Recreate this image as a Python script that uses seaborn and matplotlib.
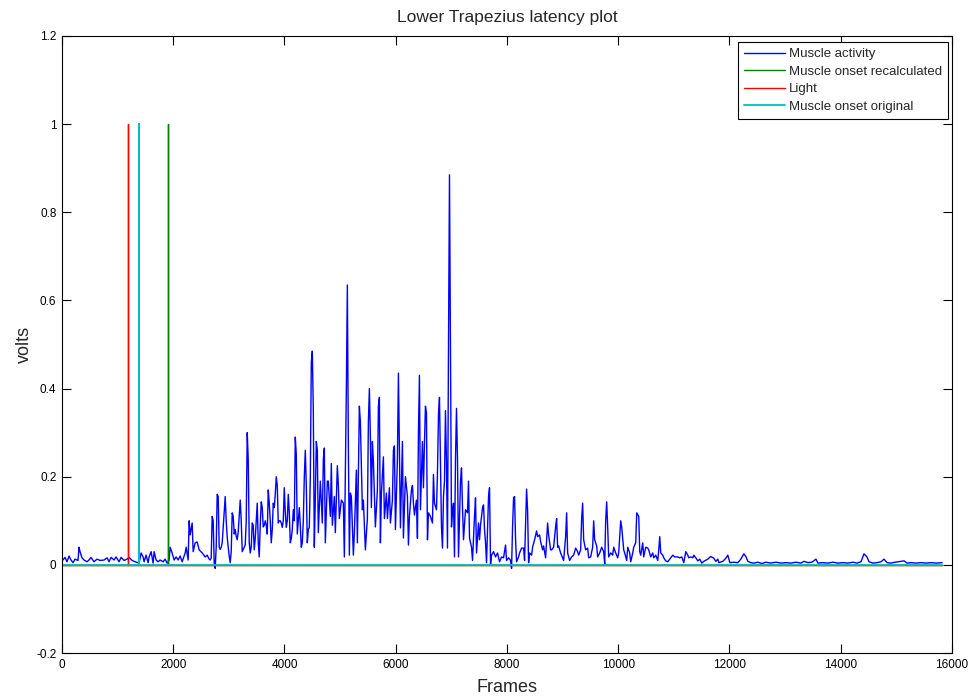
import numpy as np
import pandas as pd
import seaborn as sns
import matplotlib
matplotlib.use("Agg")
import matplotlib.pyplot as plt
from matplotlib.ticker import FuncFormatter

# muscle activity trace (frame, volts)
frames = [
    0, 18, 54, 90, 126, 162, 198, 234, 288, 306,
    324, 360, 396, 450, 486, 522, 576, 630, 684, 756,
    810, 846, 882, 936, 972, 1026, 1062, 1116, 1170, 1206,
    1260, 1314, 1386, 1422, 1458, 1476, 1512, 1548, 1566, 1602,
    1638, 1656, 1692, 1728, 1764, 1818, 1854, 1890, 1926, 1944,
    1980, 2016, 2052, 2088, 2124, 2160, 2214, 2232, 2268, 2286,
    2304, 2340, 2358, 2394, 2430, 2466, 2520, 2574, 2610, 2646,
    # burst start
    2664, 2682, 2700, 2718, 2736, 2754, 2772, 2790, 2808, 2826,
    2844, 2862, 2880, 2898, 2934, 2952, 2970, 2988, 3006, 3024,
    3042, 3060, 3078, 3096, 3114, 3132, 3150, 3168, 3204, 3222,
    3240, 3258, 3276, 3294, 3312, 3330, 3348, 3366, 3384, 3402,
    3420, 3438, 3456, 3474, 3492, 3510, 3528, 3546, 3564, 3582,
    3600, 3618, 3636, 3654, 3672, 3690, 3708, 3726, 3744, 3762,
    3780, 3798, 3816, 3834, 3852, 3870, 3888, 3906, 3924, 3942,
    3960, 3978, 3996, 4014, 4032, 4050, 4068, 4086, 4104, 4122,
    4140, 4158, 4176, 4194, 4212, 4230, 4248, 4266, 4284, 4302,
    4320, 4338, 4356, 4374, 4392, 4410, 4428, 4446,
    # main burst
    4464, 4482, 4500, 4518, 4536, 4554, 4572, 4590, 4608, 4644,
    4680, 4698, 4716, 4734, 4770, 4788, 4824, 4842, 4860, 4896,
    4914, 4950, 4968, 4986, 5022, 5058, 5076, 5112, 5130, 5148,
    5166, 5184, 5202, 5238, 5256, 5292, 5310, 5346, 5364, 5400,
    5418, 5454, 5490, 5508, 5526, 5544, 5562, 5580, 5598, 5634,
    5670, 5688, 5706, 5724, 5742, 5778, 5796, 5832, 5850, 5886,
    5904, 5940, 5958, 5976, 5994, 6030, 6048, 6066, 6084, 6120,
    6138, 6174, 6210, 6228, 6246, 6282, 6300, 6318, 6336, 6372,
    6390, 6408, 6426,
    6444, 6480, 6498, 6516, 6534, 6552, 6570, 6588, 6624, 6660,
    6678, 6696, 6732, 6750, 6768, 6786, 6822, 6840, 6858, 6876,
    6894, 6912, 6930, 6948, 6966, 6984, 7002, 7020, 7038, 7056,
    7074, 7092, 7110, 7128, 7164, 7182, 7200, 7218, 7254, 7290,
    7308, 7326, 7362, 7380, 7416, 7434, 7452, 7488, 7506, 7524,
    7560, 7578, 7596, 7614, 7632, 7668, 7686, 7704, 7722, 7758,
    7794, 7830, 7866, 7902, 7938, 7974, 7992, 8028, 8064, 8082,
    8100, 8118, 8136, 8154, 8172, 8208, 8226,
    # tail
    8262, 8298, 8316, 8334, 8352, 8370, 8388, 8406, 8442, 8460,
    8496, 8532, 8550, 8586, 8604, 8640, 8658, 8694, 8712, 8730,
    8748, 8784, 8802, 8838, 8874, 8892, 8910, 8928, 8964, 9000,
    9018, 9054, 9072, 9090, 9126, 9162, 9198, 9234, 9270, 9288,
    9324, 9342, 9360, 9378, 9414, 9450, 9468, 9504, 9540, 9558,
    9576, 9612, 9630, 9666, 9702, 9738, 9756, 9774, 9792, 9810,
    9828, 9864, 9900, 9918, 9954, 9990, 10008, 10044, 10062, 10098,
    10116, 10152, 10170, 10206, 10224, 10260, 10278, 10314, 10332, 10368,
    10386, 10404, 10440, 10458, 10494, 10530, 10548, 10584, 10620, 10638,
    10674, 10710, 10728, 10746, 10764, 10800, 10818, 10854, 10890, 10908,
    10944, 10980, 11016, 11070, 11106, 11142, 11178, 11214, 11250, 11268,
    11304, 11340, 11358, 11394, 11430, 11466,
    11502, 11538, 11610, 11664, 11718, 11754, 11790, 11808, 11880, 11934,
    11970, 12006, 12078, 12150, 12204, 12258, 12294, 12330, 12384, 12438,
    12510, 12582, 12654, 12744, 12834, 12924, 13014, 13104, 13194, 13284,
    13338, 13410, 13482, 13554, 13590, 13680, 13770, 13860, 13950, 14040,
    14130, 14220, 14292, 14364, 14418, 14472, 14508, 14580, 14652, 14724,
    14778, 14832, 14904, 14976, 15030, 15084, 15138, 15192, 15264, 15354,
    15444, 15534, 15624, 15714, 15822,
]
volts = [
    0.016, 0.011, 0.017, 0.007, 0.020, 0.011, 0.005, 0.013, 0.010, 0.040,
    0.030, 0.016, 0.011, 0.007, 0.011, 0.017, 0.007, 0.013, 0.010, 0.011,
    0.016, 0.007, 0.017, 0.011, 0.018, 0.007, 0.017, 0.010, 0.013, 0.017,
    0.010, 0.007, 0.004, 0.027, 0.018, 0.007, 0.022, 0.005, 0.018, 0.030,
    0.004, 0.030, 0.011, 0.007, 0.011, 0.007, 0.013, 0.004, 0.011, 0.040,
    0.027, 0.011, 0.018, 0.011, 0.020, 0.007, 0.027, 0.040, 0.011, 0.100,
    0.068, 0.095, 0.030, 0.050, 0.052, 0.034, 0.027, 0.018, 0.022, 0.013,
    # burst start
    0.011, 0.015, 0.110, 0.100, 0.005, -0.008, 0.040, 0.160, 0.155, 0.040,
    0.035, 0.040, 0.050, 0.085, 0.155, 0.100, 0.063, 0.040, 0.020, 0.005,
    0.030, 0.118, 0.110, 0.070, 0.080, 0.065, 0.057, 0.075, 0.147, 0.100,
    0.030, 0.035, 0.040, 0.045, 0.100, 0.300, 0.240, 0.050, 0.027, 0.040,
    0.095, 0.090, 0.034, 0.060, 0.100, 0.140, 0.050, 0.018, 0.090, 0.143,
    0.130, 0.086, 0.090, 0.100, 0.090, 0.070, 0.170, 0.140, 0.100, 0.050,
    0.080, 0.140, 0.130, 0.160, 0.200, 0.180, 0.095, 0.100, 0.100, 0.095,
    0.085, 0.100, 0.175, 0.120, 0.085, 0.100, 0.160, 0.120, 0.050, 0.060,
    0.080, 0.125, 0.100, 0.290, 0.250, 0.070, 0.100, 0.130, 0.090, 0.040,
    0.050, 0.100, 0.200, 0.260, 0.180, 0.050, 0.080, 0.085,
    # main burst
    0.200, 0.460, 0.485, 0.350, 0.040, 0.150, 0.280, 0.260, 0.073, 0.190,
    0.095, 0.240, 0.265, 0.050, 0.190, 0.190, 0.110, 0.230, 0.090, 0.155,
    0.073, 0.225, 0.180, 0.105, 0.147, 0.140, 0.018, 0.400, 0.635, 0.270,
    0.022, 0.163, 0.155, 0.022, 0.073, 0.215, 0.050, 0.360, 0.325, 0.125,
    0.147, 0.034, 0.105, 0.325, 0.400, 0.290, 0.130, 0.280, 0.235, 0.086,
    0.170, 0.360, 0.380, 0.050, 0.163, 0.245, 0.105, 0.163, 0.105, 0.175,
    0.095, 0.147, 0.260, 0.270, 0.080, 0.240, 0.435, 0.255, 0.084, 0.280,
    0.061, 0.200, 0.155, 0.045, 0.110, 0.170, 0.180, 0.140, 0.113, 0.147,
    0.060, 0.300, 0.430,
    0.125, 0.280, 0.175, 0.275, 0.360, 0.345, 0.057, 0.118, 0.110, 0.095,
    0.205, 0.140, 0.125, 0.210, 0.340, 0.380, 0.086, 0.038, 0.155, 0.190,
    0.350, 0.230, 0.038, 0.490, 0.885, 0.465, 0.086, 0.125, 0.140, 0.018,
    0.240, 0.355, 0.240, 0.018, 0.190, 0.220, 0.130, 0.057, 0.125, 0.118,
    0.190, 0.061, 0.040, 0.010, 0.110, 0.152, 0.027, 0.095, 0.057, 0.090,
    0.130, 0.136, 0.080, 0.050, 0.005, 0.155, 0.175, 0.000, 0.022, 0.030,
    0.018, 0.027, 0.007, 0.018, 0.016, 0.045, 0.010, 0.016, 0.010, -0.008,
    0.086, 0.152, 0.155, 0.057, 0.007, 0.018, 0.027,
    # tail
    0.038, 0.038, 0.010, 0.095, 0.172, 0.125, 0.005, 0.027, 0.022, 0.040,
    0.057, 0.077, 0.064, 0.068, 0.053, 0.034, 0.043, 0.016, 0.057, 0.095,
    0.068, 0.034, 0.034, 0.040, 0.086, 0.105, 0.040, 0.043, 0.027, 0.016,
    0.010, 0.064, 0.118, 0.027, 0.010, 0.018, 0.022, 0.038, 0.030, 0.022,
    0.034, 0.105, 0.140, 0.057, 0.034, 0.038, 0.016, 0.018, 0.040, 0.100,
    0.057, 0.043, 0.018, 0.027, 0.040, 0.030, 0.002, 0.100, 0.143, 0.086,
    0.018, 0.027, 0.022, 0.040, 0.027, 0.016, 0.027, 0.100, 0.086, 0.034,
    0.027, 0.010, 0.040, 0.027, 0.007, 0.027, 0.040, 0.050, 0.118, 0.110,
    0.030, 0.022, 0.050, 0.018, 0.040, 0.038, 0.034, 0.018, 0.027, 0.016,
    0.022, 0.010, 0.034, 0.064, 0.027, 0.022, 0.016, 0.009, 0.007, 0.010,
    0.016, 0.022, 0.018, 0.018, 0.016, 0.018, 0.005, 0.030, 0.022, 0.016,
    0.018, 0.016, 0.022, 0.016, 0.009, 0.013,
    0.004, 0.008, 0.013, 0.019, 0.015, 0.008, 0.013, 0.005, 0.008, 0.015,
    0.022, 0.005, 0.006, 0.005, 0.013, 0.025, 0.019, 0.008, 0.005, 0.004,
    0.006, 0.003, 0.006, 0.004, 0.006, 0.004, 0.005, 0.004, 0.006, 0.004,
    0.008, 0.005, 0.006, 0.013, 0.004, 0.005, 0.004, 0.006, 0.004, 0.005,
    0.004, 0.006, 0.004, 0.007, 0.025, 0.018, 0.007, 0.004, 0.005, 0.007,
    0.013, 0.005, 0.004, 0.006, 0.007, 0.008, 0.009, 0.004, 0.005, 0.004,
    0.005, 0.004, 0.005, 0.004, 0.005,
]
assert len(frames) == len(volts)

light_frame = 1190
recalc_frame = 1906
original_frame = 1385
last_frame = 15822

xticks = [0, 2000, 4000, 6000, 8000, 10000, 12000, 14000, 16000]
yticks = [-0.2, 0, 0.2, 0.4, 0.6, 0.8, 1, 1.2]


def onsetTrace(frame):
    # zero everywhere, jumps to 1 at the onset frame
    return pd.DataFrame({"frame": [0, frame, frame, frame, last_frame],
                         "value": [0, 0, 1, 0, 0]})


sns.set_theme(style="ticks")
plt.rcParams["font.family"] = ["Liberation Sans", "DejaVu Sans"]
plt.rcParams["axes.unicode_minus"] = False

fig = plt.figure(figsize=(9.77, 7.0), dpi=100)
ax = fig.add_axes([62 / 977, 47 / 700, 890 / 977, 617 / 700])

activity = pd.DataFrame({"frame": frames, "value": volts})
traces = [
    (activity, "#0000FF", "Muscle activity", 1.0),
    (onsetTrace(recalc_frame), "#008000", "Muscle onset recalculated", 1.0),
    (onsetTrace(light_frame), "#FF0000", "Light", 1.0),
    (onsetTrace(original_frame), "#00BFBF", "Muscle onset original", 1.3),
]
for df, col, name, width in traces:
    sns.lineplot(data=df, x="frame", y="value", color=col, lw=width,
                 estimator=None, sort=False, label=name, ax=ax)

ax.set_xlim(0, 16000)
ax.set_ylim(-0.2, 1.2)
ax.set_xticks(xticks)
ax.set_yticks(yticks)
ax.xaxis.set_major_formatter(FuncFormatter(lambda v, p: f"{v:g}"))
ax.yaxis.set_major_formatter(FuncFormatter(lambda v, p: f"{v:g}"))
ax.tick_params(direction="in", length=6.5, width=0.8, top=True, right=True,
               labelsize=8.5, pad=4, colors="black")
for spine in ax.spines.values():
    spine.set_visible(True)
    spine.set_linewidth(0.8)
    spine.set_color("black")

ax.set_xlabel("Frames", fontsize=13, labelpad=6)
ax.set_ylabel("volts", fontsize=13, labelpad=2)
ax.set_title("Lower Trapezius latency plot", fontsize=12.5, pad=10)

leg = ax.legend(loc="upper right", bbox_to_anchor=(1 - 4 / 890, 1 - 6 / 617),
                borderaxespad=0, fontsize=9.5, handlelength=3.1,
                handletextpad=0.3, labelspacing=0.4, borderpad=0.45,
                frameon=True, fancybox=False, edgecolor="black", framealpha=1)
leg.get_frame().set_linewidth(0.8)

fig.savefig("out.png", dpi=100)
